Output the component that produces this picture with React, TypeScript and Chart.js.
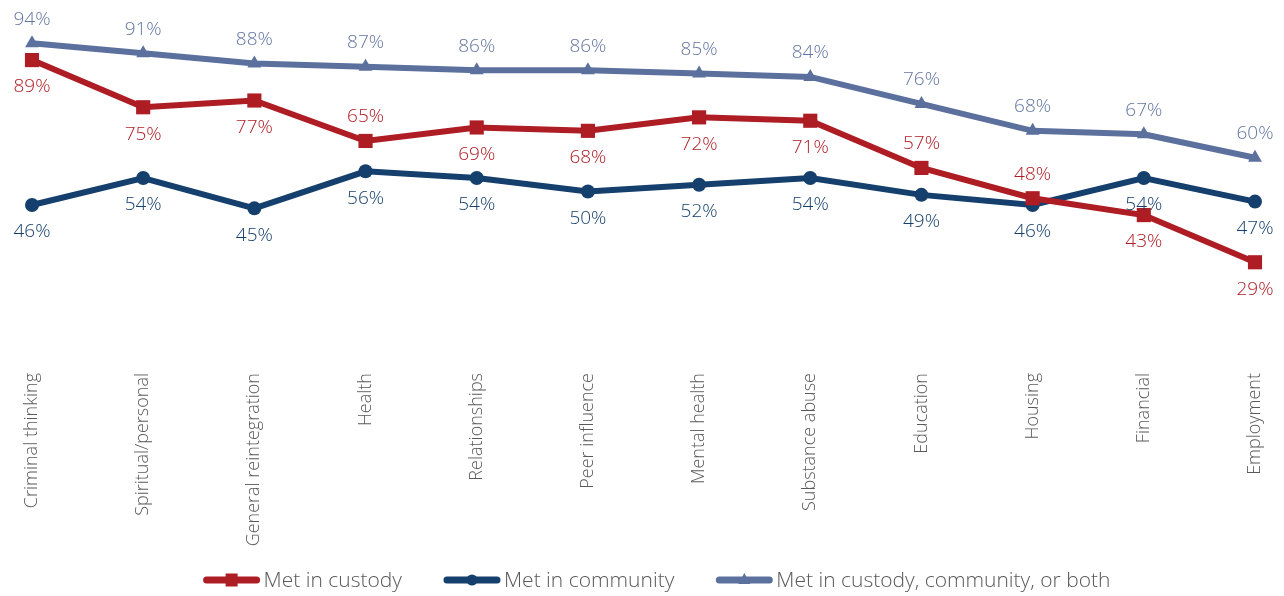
import React, { useEffect, useRef } from "react";
import { Chart, registerables } from "chart.js";

Chart.register(...registerables);

const categories = [
  "Criminal thinking",
  "Spiritual/personal",
  "General reintegration",
  "Health",
  "Relationships",
  "Peer influence",
  "Mental health",
  "Substance abuse",
  "Education",
  "Housing",
  "Financial",
  "Employment",
];

const metInCustody = [89, 75, 77, 65, 69, 68, 72, 71, 57, 48, 43, 29];
const metInCommunity = [46, 54, 45, 56, 54, 50, 52, 54, 49, 46, 54, 47];
const metAny = [94, 91, 88, 87, 86, 86, 85, 84, 76, 68, 67, 60];

const seriesNames = [
  "Met in custody",
  "Met in community",
  "Met in custody, community, or both",
];

const RED = "#AE1C24";
const NAVY = "#153F6C";
const SLATE = "#5C709E";
const SLATE_TEXT = "#6476A2";
const GREY_TEXT = "#595959";
const FONT = "'Open Sans', 'DejaVu Sans', sans-serif";

// label placement per point: 1 = above, -1 = below
const redPlacement = [-1, -1, -1, 1, -1, -1, -1, -1, 1, 1, -1, -1];
const navyPlacement = categories.map(() => -1);
const slatePlacement = categories.map(() => 1);

const valueLabelPlugin = {
  id: "valueLabels",
  afterDatasetsDraw(chart: any) {
    const ctx = chart.ctx;
    ctx.save();
    ctx.font = `300 19px ${FONT}`;
    ctx.textAlign = "center";
    ctx.textBaseline = "middle";
    chart.data.datasets.forEach((ds: any, i: number) => {
      const meta = chart.getDatasetMeta(i);
      ctx.fillStyle = ds.labelColor;
      meta.data.forEach((pt: any, j: number) => {
        const place = ds.placement[j];
        const dy = place > 0 ? -24 : 27;
        ctx.fillText(ds.data[j] + "%", pt.x, pt.y + dy);
      });
    });
    ctx.restore();
  },
};

const legendPlugin = {
  id: "customLegend",
  afterDraw(chart: any) {
    const ctx = chart.ctx;
    ctx.save();
    ctx.font = `300 21px ${FONT}`;
    const lineLen = 56;
    const gap = 4;
    const spacing = 42;
    const widths = chart.data.datasets.map(
      (ds: any) => lineLen + gap + ctx.measureText(ds.label).width
    );
    const total =
      widths.reduce((a: number, b: number) => a + b, 0) +
      spacing * (widths.length - 1);
    let x = chart.width / 2 - total / 2 + 15;
    const y = 580;
    chart.data.datasets.forEach((ds: any, i: number) => {
      ctx.strokeStyle = ds.borderColor;
      ctx.lineWidth = 7;
      ctx.lineCap = "round";
      ctx.beginPath();
      ctx.moveTo(x + 3, y);
      ctx.lineTo(x + lineLen - 3, y);
      ctx.stroke();
      ctx.fillStyle = ds.borderColor;
      ctx.beginPath();
      const cx = x + lineLen / 2;
      if (ds.pointStyle === "rect") {
        ctx.rect(cx - 6, y - 6.5, 12, 13);
      } else if (ds.pointStyle === "circle") {
        ctx.arc(cx, y, 5.5, 0, Math.PI * 2);
      } else {
        ctx.moveTo(cx, y - 7);
        ctx.lineTo(cx + 6, y + 4);
        ctx.lineTo(cx - 6, y + 4);
        ctx.closePath();
      }
      ctx.fill();
      ctx.fillStyle = GREY_TEXT;
      ctx.textAlign = "left";
      ctx.textBaseline = "alphabetic";
      ctx.fillText(ds.label, x + lineLen + gap, y + 7);
      x += widths[i] + spacing;
    });
    ctx.restore();
  },
};

export default function App() {
  const ref = useRef<HTMLCanvasElement>(null);

  useEffect(() => {
    document.body.style.margin = "0";
    document.body.style.overflow = "hidden";
    if (!ref.current) return;
    const chart = new Chart(ref.current, {
      type: "line",
      data: {
        labels: categories,
        datasets: [
          {
            label: seriesNames[0],
            data: metInCustody,
            borderColor: RED,
            backgroundColor: RED,
            borderWidth: 6,
            pointStyle: "rect",
            pointRadius: 10,
            pointBorderWidth: 0,
            tension: 0,
            labelColor: RED,
            placement: redPlacement,
          } as any,
          {
            label: seriesNames[1],
            data: metInCommunity,
            borderColor: NAVY,
            backgroundColor: NAVY,
            borderWidth: 6,
            pointStyle: "circle",
            pointRadius: 7,
            pointBorderWidth: 0,
            tension: 0,
            labelColor: NAVY,
            placement: navyPlacement,
          } as any,
          {
            label: seriesNames[2],
            data: metAny,
            borderColor: SLATE,
            backgroundColor: SLATE,
            borderWidth: 6,
            pointStyle: "triangle",
            pointRadius: 8,
            pointBorderWidth: 0,
            tension: 0,
            labelColor: SLATE_TEXT,
            placement: slatePlacement,
          } as any,
        ],
      },
      options: {
        animation: false,
        responsive: false,
        maintainAspectRatio: false,
        layout: { padding: { left: 32, right: 29, top: 23, bottom: 0 } },
        plugins: {
          legend: { display: false },
          tooltip: { enabled: false },
        },
        scales: {
          x: {
            offset: false,
            grid: { display: false, drawTicks: false },
            border: { display: false },
            ticks: {
              minRotation: 90,
              maxRotation: 90,
              autoSkip: false,
              padding: 13,
              color: GREY_TEXT,
              font: { family: FONT, size: 18, weight: 300 as any },
            },
            afterFit(scale: any) {
              scale.height = 236;
              scale.paddingLeft = 0;
              scale.paddingRight = 0;
            },
          },
          y: {
            display: false,
            min: 0,
            max: 100,
          },
        },
      },
      plugins: [valueLabelPlugin, legendPlugin],
    });
    return () => chart.destroy();
  }, []);

  return (
    <div style={{ width: 1284, height: 596, overflow: "hidden" }}>
      <canvas ref={ref} width={1284} height={596} style={{ display: "block" }} />
    </div>
  );
}
